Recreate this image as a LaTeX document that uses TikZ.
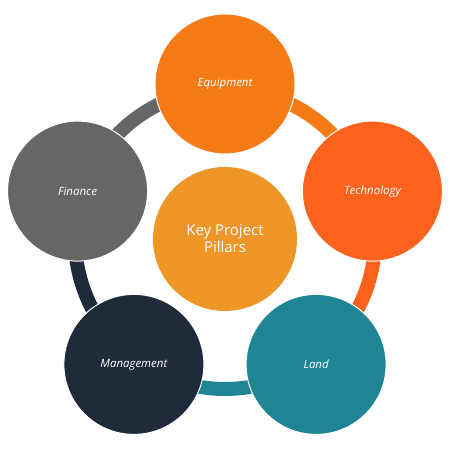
\documentclass[tikz,border=0pt]{standalone}
\usepackage{fontspec}
\setmainfont{Open Sans}
\definecolor{eqpcol}{HTML}{F47B16}
\definecolor{tchcol}{HTML}{FA621E}
\definecolor{lndcol}{HTML}{1F8594}
\definecolor{mgtcol}{HTML}{1F2A3A}
\definecolor{fincol}{HTML}{666666}
\definecolor{corecol}{HTML}{EE9627}

\begin{document}
\begin{tikzpicture}[x=1bp, y=1bp,
  pillar/.style={circle, draw=white, line width=1bp, minimum size=140bp,
    inner sep=0pt, text=white, font=\fontsize{11.5}{13}\selectfont\itshape},
  hub/.style={circle, fill=corecol, minimum size=144bp, inner sep=0pt,
    text=white, align=center, font=\fontsize{15}{17}\selectfont},
  seg/.style={line width=14bp}]
  \useasboundingbox (0,0) rectangle (450,450);
  \coordinate (mid) at (225,211);
  % ring
  \foreach \a/\c in {162/fincol, 90/eqpcol, 18/tchcol, -54/lndcol, -126/mgtcol}
    \draw[seg, draw=\c] (mid) ++(\a:150) arc[start angle=\a, end angle=\a-72, radius=150];
  % hub
  \node[hub] (core) at (mid) {Key Project\\Pillars};
  % pillars
  \node[pillar, fill=eqpcol] (eqp) at ([shift={(90:155)}]mid)   {Equipment};
  \node[pillar, fill=tchcol] (tch) at ([shift={(18:155)}]mid)   {Technology};
  \node[pillar, fill=lndcol] (lnd) at ([shift={(-54:155)}]mid)  {Land};
  \node[pillar, fill=mgtcol] (mgt) at ([shift={(-126:155)}]mid) {Management};
  \node[pillar, fill=fincol] (fin) at ([shift={(162:155)}]mid)  {Finance};
\end{tikzpicture}
\end{document}
